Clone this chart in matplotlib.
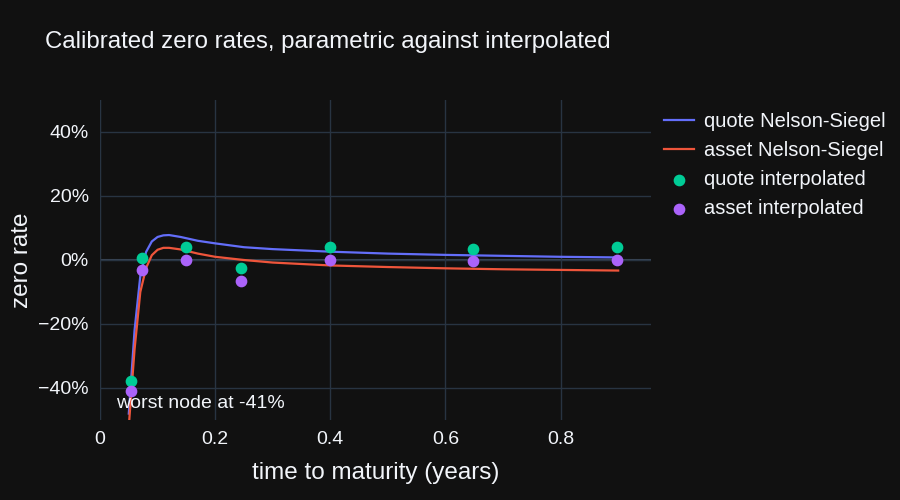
import matplotlib.pyplot as plt
from matplotlib.ticker import FuncFormatter

# --- donnees ---
node_t = [0.054, 0.073, 0.149, 0.245, 0.40, 0.648, 0.898]
quote_nodes = [-37.8, 0.6, 4.0, -2.5, 4.0, 3.5, 4.0]
asset_nodes = [-41.0, -3.0, 0.0, -6.5, 0.0, -0.3, 0.0]

curve_t = [0.05, 0.06, 0.07, 0.08, 0.09, 0.10, 0.11, 0.12, 0.14, 0.17, 0.20,
           0.25, 0.30, 0.40, 0.50, 0.60, 0.70, 0.80, 0.90]
quote_ns = [-48, -22, -5, 2.5, 5.8, 7.2, 7.7, 7.8, 7.2, 6.0, 5.2,
            4.0, 3.4, 2.6, 2.0, 1.6, 1.3, 1.0, 0.8]
asset_ns = [-52, -28, -10, -2.5, 1.5, 3.2, 3.8, 3.8, 3.3, 2.0, 1.0,
            0.0, -0.8, -1.7, -2.2, -2.6, -2.9, -3.1, -3.3]

bg = "#111111"
grid = "#283442"
txt = "#f2f5fa"

plt.rcParams["font.family"] = ["Liberation Sans", "DejaVu Sans"]
fig = plt.figure(figsize=(9, 5), dpi=100, facecolor=bg)
ax = fig.add_axes([100 / 900, 0.16, 551 / 900, 0.64], facecolor=bg)

ax.plot(curve_t, quote_ns, color="#636efa", lw=1.6, label="quote Nelson-Siegel", zorder=3)
ax.plot(curve_t, asset_ns, color="#EF553B", lw=1.6, label="asset Nelson-Siegel", zorder=3)
ax.scatter(node_t, quote_nodes, s=55, color="#00cc96", label="quote interpolated", zorder=4)
ax.scatter(node_t, asset_nodes, s=55, color="#ab63fa", label="asset interpolated", zorder=4)

ax.set_xlim(0, 0.957)
ax.set_ylim(-50, 50)
ax.set_xticks([0, 0.2, 0.4, 0.6, 0.8])
ax.set_xticklabels(["0", "0.2", "0.4", "0.6", "0.8"])
ax.set_yticks([-40, -20, 0, 20, 40])
ax.yaxis.set_major_formatter(FuncFormatter(lambda v, p: f"{int(v)}%".replace("-", "\u2212")))
ax.grid(True, color=grid, lw=1)
ax.axhline(0, color="#3a4656", lw=1.5, zorder=1)
ax.axvline(0, color="#3a4656", lw=1.5, zorder=1)
for s in ax.spines.values():
    s.set_visible(False)
ax.tick_params(colors=txt, labelsize=14, length=0, pad=8)
ax.set_xlabel("time to maturity (years)", color=txt, fontsize=17.5, labelpad=10)
ax.set_ylabel("zero rate", color=txt, fontsize=17.5)

ax.text(0.175, -45, "worst node at -41%", color=txt, fontsize=14, ha="center", va="center")
fig.text(45 / 900, 1 - 42 / 500, "Calibrated zero rates, parametric against interpolated",
         color=txt, fontsize=17.3, va="center")

leg = ax.legend(loc="upper left", bbox_to_anchor=(0.99, 1.02), frameon=False,
                fontsize=14.5, labelcolor=txt, handlelength=1.5, handletextpad=0.5,
                labelspacing=0.5)

fig.savefig("out.png", dpi=100, facecolor=bg)
